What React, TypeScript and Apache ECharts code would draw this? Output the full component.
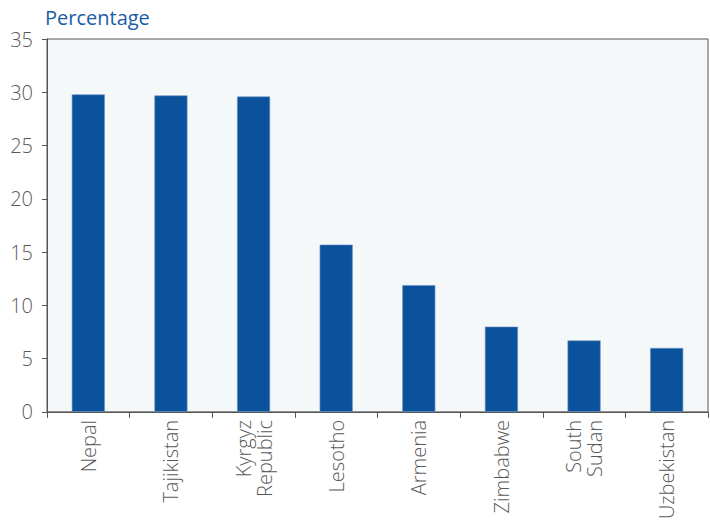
import React, { useEffect, useRef } from "react";
import * as echarts from "echarts";

const categories = ["Nepal", "Tajikistan", "Kyrgyz\nRepublic", "Lesotho", "Armenia", "Zimbabwe", "South\nSudan", "Uzbekistan"];
const values = [29.8, 29.7, 29.6, 15.7, 11.9, 8.0, 6.7, 6.0];
const yTicks = { min: 0, max: 35, interval: 5 };
const axisTitle = "Percentage";

export default function App() {
  const ref = useRef<HTMLDivElement>(null);
  useEffect(() => {
    document.body.style.margin = "0";
    const chart = echarts.init(ref.current!, null, { renderer: "svg" });
    const font = "'Open Sans', 'Noto Sans', sans-serif";
    chart.setOption({
      animation: false,
      grid: {
        left: 47,
        top: 39,
        right: 2,
        bottom: 103,
        show: true,
        backgroundColor: "#f4f8f9",
        borderColor: "#555555",
        borderWidth: 1,
      },
      graphic: [
        {
          type: "text",
          left: 45,
          top: 7,
          style: { text: axisTitle, fill: "#1a5ca6", font: `20px ${font}` },
        },
      ],
      xAxis: {
        type: "category",
        data: categories,
        axisLine: { lineStyle: { color: "#555555", width: 1 } },
        axisTick: { show: true, length: 6, alignWithLabel: false, lineStyle: { color: "#555555" } },
        axisLabel: {
          rotate: 90,
          interval: 0,
          margin: 8,
          color: "#595959",
          fontFamily: font,
          fontWeight: 300,
          fontSize: 20,
          lineHeight: 21,
        },
      },
      yAxis: {
        type: "value",
        min: yTicks.min,
        max: yTicks.max,
        interval: yTicks.interval,
        splitLine: { show: false },
        axisLine: { show: true, lineStyle: { color: "#555555", width: 1 } },
        axisTick: { show: true, length: 5, lineStyle: { color: "#555555" } },
        axisLabel: { margin: 14, color: "#595959", fontFamily: font, fontWeight: 300, fontSize: 20 },
      },
      series: [
        {
          type: "bar",
          data: values,
          barWidth: "40%",
          itemStyle: { color: "#0b529c", borderColor: "#6d93c4", borderWidth: 0.6 },
        },
      ],
    });
    return () => chart.dispose();
  }, []);
  return <div ref={ref} style={{ width: 710, height: 522 }} />;
}
